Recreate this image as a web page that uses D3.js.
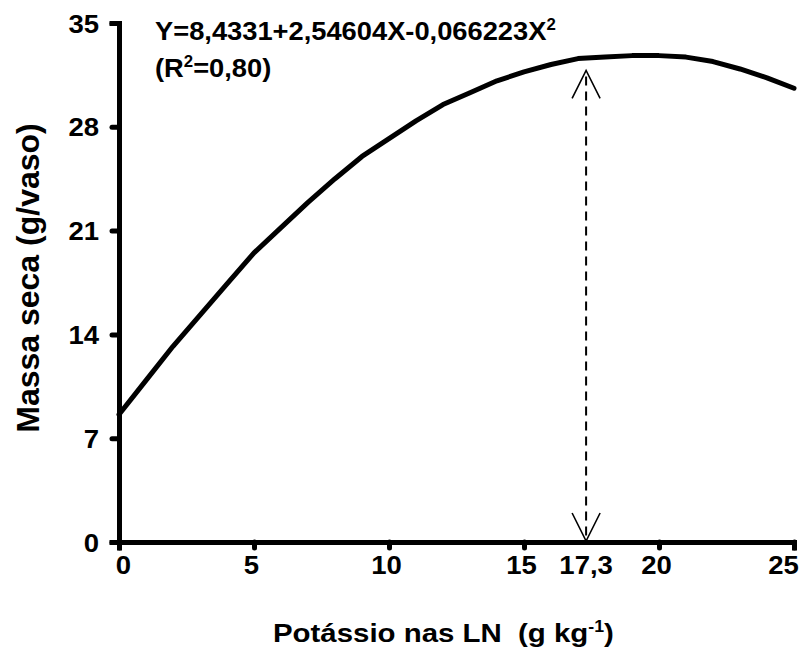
<!DOCTYPE html>
<html>
<head>
<meta charset="utf-8">
<script src="https://cdn.jsdelivr.net/npm/d3@7"></script>
<style>
  html, body { margin: 0; padding: 0; background: #fff; }
  svg { display: block; }
  text { font-family: "Liberation Sans", Arial, sans-serif; font-weight: bold; fill: #000; }
</style>
</head>
<body>
<svg id="chart" width="804" height="650"></svg>
<script>
// Potassium dose in the nutrient solution (g kg-1)
const doses = [0, 1, 2, 3, 4, 5, 6, 7, 8, 9, 10, 11, 12, 13, 14, 15, 16, 17, 18, 19, 20, 21, 22, 23, 24, 25];
// Dry mass (g/vaso), fitted response
const dryMass = [8.6, 10.9, 13.2, 15.3, 17.4, 19.5, 21.2, 22.9, 24.5, 26.0, 27.2, 28.4, 29.5, 30.3, 31.1, 31.7, 32.2, 32.6, 32.7, 32.8, 32.8, 32.7, 32.4, 31.9, 31.3, 30.6];
const xTicks = [0, 5, 10, 15, 20, 25];
const yTicks = [0, 7, 14, 21, 28, 35];
// Dose of maximum response, marked with a double arrow
const optimumDose = 17.3;
const optimumLabel = "17,3";
const arrowTop = 31.8;

const svg = d3.select("#chart");
const x = d3.scaleLinear().domain([0, 25]).range([119, 794]);
const y = d3.scaleLinear().domain([0, 35]).range([542, 23]);

// Widen a text horizontally about its anchor x
function widen(sel, sx) {
  sel.each(function () {
    const t = d3.select(this);
    const x0 = +t.attr("x") || 0;
    t.attr("transform", `translate(${x0 * (1 - sx)},0) scale(${sx},1)`);
  });
}

// Axes
const xAxis = svg.append("g").attr("transform", `translate(0,${y(0)})`)
  .call(d3.axisBottom(x).tickValues(xTicks).tickSize(6).tickPadding(8).tickFormat(d3.format("d")));
const yAxis = svg.append("g").attr("transform", `translate(${x(0)},0)`)
  .call(d3.axisLeft(y).tickValues(yTicks).tickSize(7).tickPadding(13).tickFormat(d3.format("d")));

[xAxis, yAxis].forEach(g => {
  g.select(".domain").attr("stroke", "#000").attr("stroke-width", 5).attr("stroke-linecap", "square");
  g.selectAll(".tick line").attr("stroke", "#000").attr("stroke-width", 5).attr("stroke-linecap", "round");
  g.selectAll(".tick text").style("font-size", "25px").style("font-family", '"Liberation Sans", Arial, sans-serif').style("font-weight", "bold").attr("fill", "#000");
});
yAxis.selectAll(".tick text").attr("dy", "0.36em");
xAxis.selectAll(".tick text").attr("dy", "0.71em")
  .attr("x", d => d === 0 ? 4 : (d === 25 ? -11 : -3));
widen(yAxis.selectAll(".tick text"), 1.1);
widen(xAxis.selectAll(".tick text"), 1.1);

// Extra label at the optimum dose
svg.append("text")
  .attr("x", x(optimumDose)).attr("y", y(0) + 14)
  .attr("dy", "0.71em").attr("text-anchor", "middle")
  .style("font-size", "25px")
  .text(optimumLabel)
  .call(widen, 1.1);

// Response curve
const line = d3.line().x((d, i) => x(doses[i])).y(d => y(d));
svg.append("path")
  .datum(dryMass)
  .attr("d", line)
  .attr("fill", "none").attr("stroke", "#000").attr("stroke-width", 5)
  .attr("stroke-linejoin", "round").attr("stroke-linecap", "round");

// Dashed double arrow at the optimum
const ax = x(optimumDose);
svg.append("line")
  .attr("x1", ax).attr("x2", ax)
  .attr("y1", y(arrowTop) + 6).attr("y2", y(0) - 4)
  .attr("stroke", "#000").attr("stroke-width", 2).attr("stroke-dasharray", "9,6");
const head = (tipY, dir) => {
  const p = d3.path();
  p.moveTo(ax - 14, tipY + dir * 28);
  p.lineTo(ax, tipY);
  p.lineTo(ax + 14, tipY + dir * 28);
  return p.toString();
};
svg.append("path").attr("d", head(y(arrowTop), 1)).attr("fill", "none").attr("stroke", "#000").attr("stroke-width", 1.6);
svg.append("path").attr("d", head(y(0) - 1, -1)).attr("fill", "none").attr("stroke", "#000").attr("stroke-width", 1.6);

// Regression equation
const eq = svg.append("text").attr("x", 155).attr("y", 40).style("font-size", "26px");
eq.append("tspan").text("Y=8,4331+2,54604X-0,066223X");
eq.append("tspan").attr("dy", -10).style("font-size", "16px").text("2");
widen(eq, 1.05);
const r2 = svg.append("text").attr("x", 155).attr("y", 77).style("font-size", "26px");
r2.append("tspan").text("(R");
r2.append("tspan").attr("dy", -10).style("font-size", "16px").text("2");
r2.append("tspan").attr("dy", 10).text("=0,80)");
widen(r2, 1.05);

// Axis titles
const xt = svg.append("text").attr("x", 273).attr("y", 642).style("font-size", "26.5px");
xt.append("tspan").text("Potássio nas LN\u00a0\u00a0(g kg");
xt.append("tspan").attr("dy", -10).style("font-size", "16px").text("-1");
xt.append("tspan").attr("dy", 10).text(")");
widen(xt, 1.11);

svg.append("text")
  .attr("transform", "translate(39,278) rotate(-90)")
  .attr("text-anchor", "middle")
  .style("font-size", "32px")
  .text("Massa seca (g/vaso)");
</script>
</body>
</html>
